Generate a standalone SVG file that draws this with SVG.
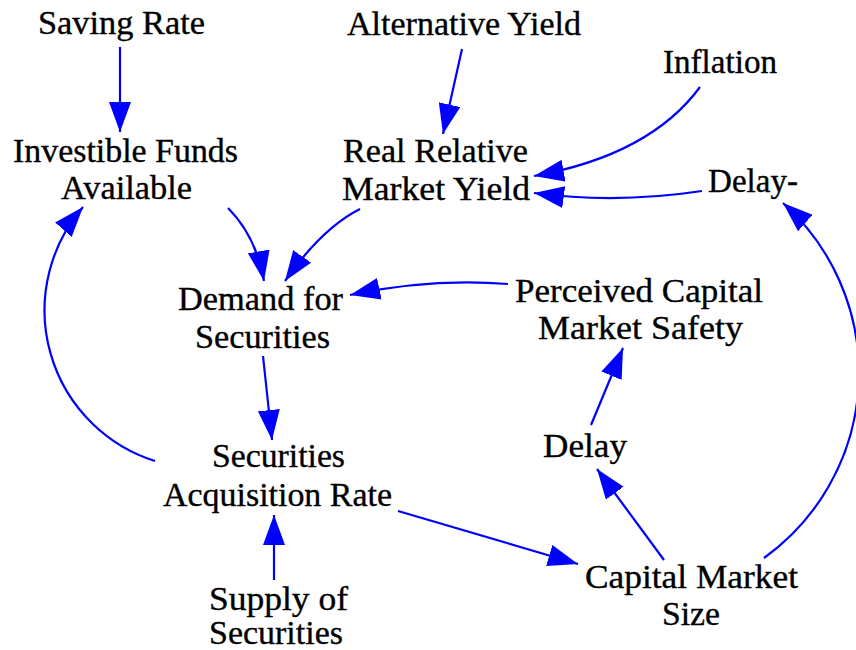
<svg xmlns="http://www.w3.org/2000/svg" width="856" height="650" viewBox="0 0 856 650">
  <style>
    .lbl { font-family: "Liberation Serif", "Times New Roman", serif; font-size: 33px; fill: #000; stroke: #000; stroke-width: 0.35; text-anchor: middle; }
    .link { fill: none; stroke: #0000ff; stroke-width: 2.2; marker-end: url(#head); }
  </style>
  <defs>
    <marker id="head" markerUnits="userSpaceOnUse" markerWidth="30" markerHeight="22" refX="30" refY="11" orient="auto">
      <path d="M0,0 L30,11 L0,22 z" fill="#0000ff"/>
    </marker>
  </defs>
  <rect width="856" height="650" fill="#fff"/>

  <g id="connectors">
    <path class="link" d="M120,47 L120,132"/>
    <path class="link" d="M462,49 L443,134"/>
    <path class="link" d="M700,87 Q650,155 534,176"/>
    <path class="link" d="M702,191 Q616,204 534,193"/>
    <path class="link" d="M228,208 Q256,236 264,281"/>
    <path class="link" d="M360,209 Q322,228 285,281"/>
    <path class="link" d="M508,284 Q430,278 350,295"/>
    <path class="link" d="M263,356 L272,440"/>
    <path class="link" d="M155,461 A158,158 0 0 1 83,207"/>
    <path class="link" d="M274,580 L274,515"/>
    <path class="link" d="M398,511 L578,564"/>
    <path class="link" d="M664,560 L597,469"/>
    <path class="link" d="M591,425 L623,348"/>
    <path class="link" d="M764,558 A228,228 0 0 0 783,203"/>
  </g>

  <g id="saving-rate"><text class="lbl" x="121.5" y="34" textLength="167" lengthAdjust="spacingAndGlyphs">Saving Rate</text></g>
  <g id="alternative-yield"><text class="lbl" x="464" y="35" textLength="234" lengthAdjust="spacingAndGlyphs">Alternative Yield</text></g>
  <g id="inflation"><text class="lbl" x="720" y="73" textLength="114" lengthAdjust="spacingAndGlyphs">Inflation</text></g>
  <g id="investible-funds">
    <text class="lbl" x="125.5" y="162" textLength="225" lengthAdjust="spacingAndGlyphs">Investible Funds</text>
    <text class="lbl" x="126.5" y="199" textLength="131" lengthAdjust="spacingAndGlyphs">Available</text>
  </g>
  <g id="real-relative-market-yield">
    <text class="lbl" x="435.5" y="162" textLength="185" lengthAdjust="spacingAndGlyphs">Real Relative</text>
    <text class="lbl" x="436" y="200" textLength="188" lengthAdjust="spacingAndGlyphs">Market Yield</text>
  </g>
  <g id="delay-minus"><text class="lbl" x="753" y="192" textLength="90" lengthAdjust="spacingAndGlyphs">Delay-</text></g>
  <g id="demand-for-securities">
    <text class="lbl" x="260.5" y="310" textLength="165" lengthAdjust="spacingAndGlyphs">Demand for</text>
    <text class="lbl" x="262.5" y="348" textLength="135" lengthAdjust="spacingAndGlyphs">Securities</text>
  </g>
  <g id="perceived-capital-market-safety">
    <text class="lbl" x="639" y="302" textLength="248" lengthAdjust="spacingAndGlyphs">Perceived Capital</text>
    <text class="lbl" x="640.5" y="339" textLength="205" lengthAdjust="spacingAndGlyphs">Market Safety</text>
  </g>
  <g id="delay"><text class="lbl" x="585" y="457" textLength="84" lengthAdjust="spacingAndGlyphs">Delay</text></g>
  <g id="securities-acquisition-rate">
    <text class="lbl" x="278.5" y="467" textLength="133" lengthAdjust="spacingAndGlyphs">Securities</text>
    <text class="lbl" x="277.5" y="506" textLength="229" lengthAdjust="spacingAndGlyphs">Acquisition Rate</text>
  </g>
  <g id="supply-of-securities">
    <text class="lbl" x="278.5" y="610" textLength="139" lengthAdjust="spacingAndGlyphs">Supply of</text>
    <text class="lbl" x="276" y="644" textLength="134" lengthAdjust="spacingAndGlyphs">Securities</text>
  </g>
  <g id="capital-market-size">
    <text class="lbl" x="691.5" y="588" textLength="213" lengthAdjust="spacingAndGlyphs">Capital Market</text>
    <text class="lbl" x="691" y="625" textLength="58" lengthAdjust="spacingAndGlyphs">Size</text>
  </g>
</svg>
